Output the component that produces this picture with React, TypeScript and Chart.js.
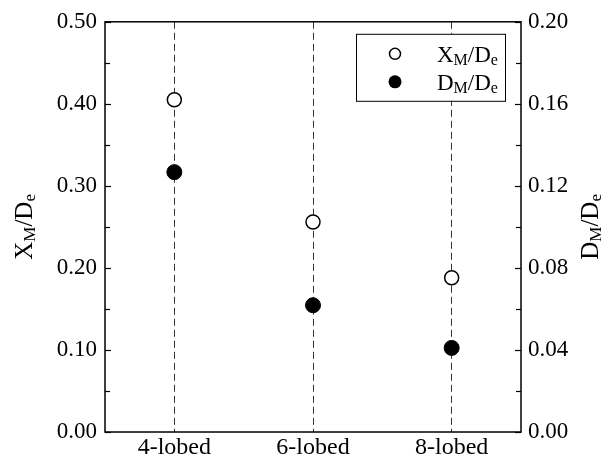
import React, { useEffect, useRef } from "react";
import { Chart, registerables } from "chart.js";

Chart.register(...registerables);

const categories = ["4-lobed", "6-lobed", "8-lobed"];
const xmValues = [0.405, 0.256, 0.188];
const dmValues = [0.1267, 0.0618, 0.041];
const leftTicks = [0, 0.1, 0.2, 0.3, 0.4, 0.5];
const rightTicks = [0, 0.04, 0.08, 0.12, 0.16, 0.2];
const xmLabel: [string, boolean][] = [["X", false], ["M", true], ["/D", false], ["e", true]];
const dmLabel: [string, boolean][] = [["D", false], ["M", true], ["/D", false], ["e", true]];

const FONT = '"Liberation Serif", "Times New Roman", serif';
const FS = 23;

function partsWidth(ctx: CanvasRenderingContext2D, parts: [string, boolean][], size: number) {
  let w = 0;
  for (const [t, sub] of parts) {
    ctx.font = `${sub ? Math.round(size * 0.68) : size}px ${FONT}`;
    w += ctx.measureText(t).width;
  }
  return w;
}

function drawParts(ctx: CanvasRenderingContext2D, parts: [string, boolean][], x: number, y: number, size: number) {
  ctx.textBaseline = "alphabetic";
  ctx.textAlign = "left";
  ctx.fillStyle = "#000";
  let cx = x;
  for (const [t, sub] of parts) {
    ctx.font = `${sub ? Math.round(size * 0.68) : size}px ${FONT}`;
    ctx.fillText(t, cx, sub ? y + size * 0.12 : y);
    cx += ctx.measureText(t).width;
  }
}

const decorPlugin = {
  id: "decor",
  afterDraw(chart: any) {
    const ctx: CanvasRenderingContext2D = chart.ctx;
    const a = chart.chartArea;
    const y = chart.scales.y;
    const y2 = chart.scales.y2;
    ctx.save();
    // frame
    ctx.strokeStyle = "#000";
    ctx.lineWidth = 1.5;
    ctx.setLineDash([]);
    ctx.strokeRect(a.left, a.top, a.right - a.left, a.bottom - a.top);
    // inward ticks
    ctx.lineWidth = 1.2;
    const tickL = (vals: number[], scale: any, left: boolean) => {
      const all: [number, number][] = [];
      for (let i = 0; i < vals.length; i++) {
        all.push([vals[i], 6]);
        if (i < vals.length - 1) all.push([(vals[i] + vals[i + 1]) / 2, 5]);
      }
      for (const [v, len] of all) {
        const py = Math.round(scale.getPixelForValue(v)) + 0.5;
        ctx.beginPath();
        if (left) {
          ctx.moveTo(a.left, py);
          ctx.lineTo(a.left + len, py);
        } else {
          ctx.moveTo(a.right, py);
          ctx.lineTo(a.right - len, py);
        }
        ctx.stroke();
      }
    };
    tickL(leftTicks, y, true);
    tickL(rightTicks, y2, false);

    // axis titles
    const midY = (a.top + a.bottom) / 2;
    const tfs = 25;
    ctx.save();
    ctx.translate(32, midY);
    ctx.rotate(-Math.PI / 2);
    const w1 = partsWidth(ctx, xmLabel, tfs);
    drawParts(ctx, xmLabel, -w1 / 2, 0, tfs);
    ctx.restore();
    ctx.save();
    ctx.translate(598, midY);
    ctx.rotate(-Math.PI / 2);
    const w2 = partsWidth(ctx, dmLabel, tfs);
    drawParts(ctx, dmLabel, -w2 / 2, 0, tfs);
    ctx.restore();

    // legend
    const lx = a.right - 165;
    const ly = a.top + 12;
    const lw = 149;
    const lh = 67;
    ctx.fillStyle = "#fff";
    ctx.fillRect(lx, ly, lw, lh);
    ctx.strokeStyle = "#000";
    ctx.lineWidth = 1;
    ctx.strokeRect(lx + 0.5, ly + 0.5, lw, lh);
    const mx = lx + 39;
    const r1 = ly + 20;
    const r2 = ly + 48;
    ctx.beginPath();
    ctx.arc(mx, r1, 5.5, 0, Math.PI * 2);
    ctx.fillStyle = "#fff";
    ctx.fill();
    ctx.lineWidth = 1.5;
    ctx.stroke();
    ctx.beginPath();
    ctx.arc(mx, r2, 6.5, 0, Math.PI * 2);
    ctx.fillStyle = "#000";
    ctx.fill();
    drawParts(ctx, xmLabel, lx + 81, r1 + 8, FS);
    drawParts(ctx, dmLabel, lx + 81, r2 + 8, FS);
    ctx.restore();
  },
};

export default function App() {
  const ref = useRef<HTMLCanvasElement | null>(null);
  useEffect(() => {
    if (!ref.current) return;
    const chart = new Chart(ref.current, {
      type: "line",
      data: {
        labels: categories,
        datasets: [
          {
            label: "XM/De",
            data: xmValues,
            yAxisID: "y",
            showLine: false,
            pointStyle: "circle",
            pointRadius: 7,
            pointHoverRadius: 7,
            pointBackgroundColor: "#fff",
            pointBorderColor: "#000",
            pointBorderWidth: 1.5,
          },
          {
            label: "DM/De",
            data: dmValues,
            yAxisID: "y2",
            showLine: false,
            pointStyle: "circle",
            pointRadius: 7.5,
            pointHoverRadius: 7.5,
            pointBackgroundColor: "#000",
            pointBorderColor: "#000",
            pointBorderWidth: 1,
          },
        ],
      },
      options: {
        animation: false,
        responsive: true,
        maintainAspectRatio: false,
        events: [],
        layout: { padding: { top: 21, left: 0, right: 0, bottom: 0 } },
        plugins: { legend: { display: false }, tooltip: { enabled: false } },
        scales: {
          x: {
            type: "category",
            offset: true,
            grid: { display: true, color: "#333", lineWidth: 1, drawTicks: false },
            border: { display: false, dash: [7, 4] },
            ticks: { color: "#000", font: { family: FONT, size: 24 }, padding: 1 },
            afterFit: (s: any) => {
              s.height = 26;
            },
          },
          y: {
            position: "left",
            min: 0,
            max: 0.5,
            grid: { display: false, drawTicks: false },
            border: { display: false },
            afterBuildTicks: (s: any) => {
              s.ticks = leftTicks.map((v) => ({ value: v }));
            },
            ticks: {
              color: "#000",
              font: { family: FONT, size: FS },
              padding: 8,
              callback: (v: any) => Number(v).toFixed(2),
            },
            afterFit: (s: any) => {
              s.width = 105;
            },
          },
          y2: {
            position: "right",
            min: 0,
            max: 0.2,
            grid: { display: false, drawTicks: false },
            border: { display: false },
            afterBuildTicks: (s: any) => {
              s.ticks = rightTicks.map((v) => ({ value: v }));
            },
            ticks: {
              color: "#000",
              font: { family: FONT, size: FS },
              padding: 7,
              callback: (v: any) => Number(v).toFixed(2),
            },
            afterFit: (s: any) => {
              s.width = 87;
            },
          },
        },
      } as any,
      plugins: [decorPlugin],
    });
    return () => chart.destroy();
  }, []);
  return (
    <div style={{ position: "absolute", left: 0, top: 0, width: 608, height: 458, background: "#fff" }}>
      <canvas ref={ref} />
    </div>
  );
}
